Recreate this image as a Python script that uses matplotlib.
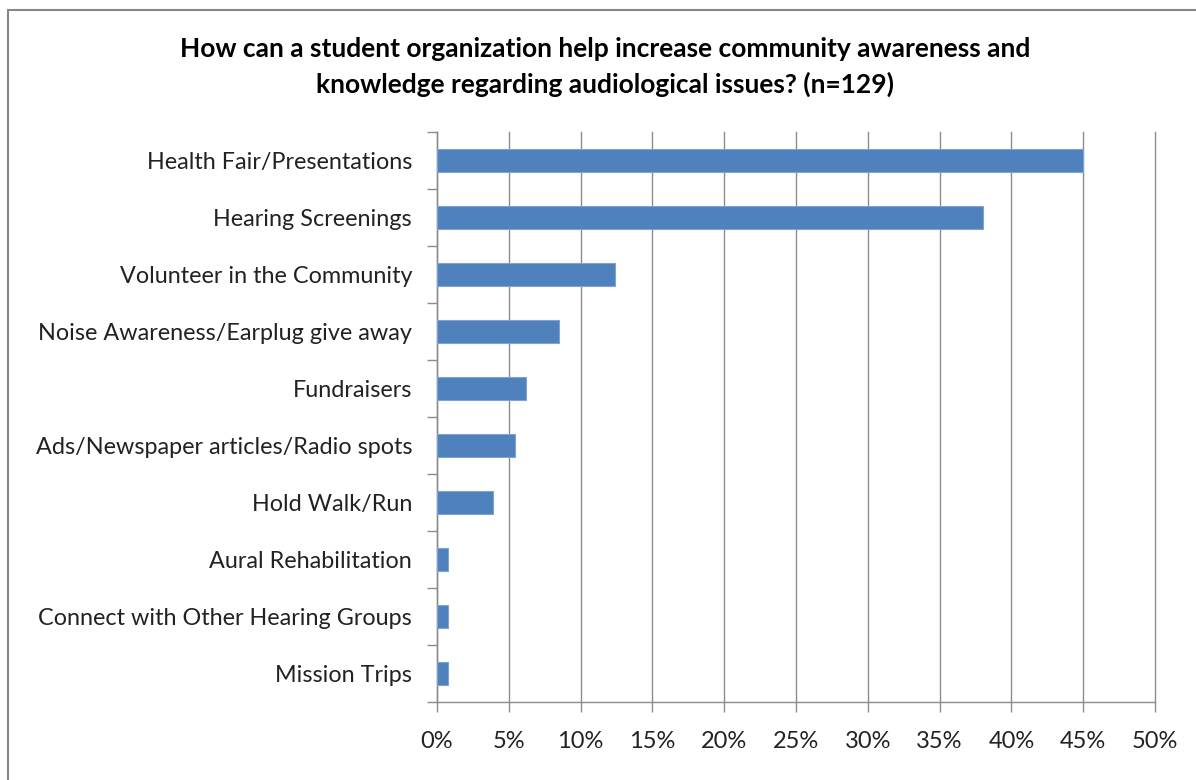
import matplotlib
matplotlib.use("Agg")
import matplotlib.pyplot as plt
from matplotlib.patches import Rectangle
from matplotlib.ticker import MultipleLocator, FuncFormatter

categories = [
    "Health Fair/Presentations",
    "Hearing Screenings",
    "Volunteer in the Community",
    "Noise Awareness/Earplug give away",
    "Fundraisers",
    "Ads/Newspaper articles/Radio spots",
    "Hold Walk/Run",
    "Aural Rehabilitation",
    "Connect with Other Hearing Groups",
    "Mission Trips",
]
percent = [45.0, 38.0, 12.4, 8.5, 6.2, 5.4, 3.9, 0.8, 0.8, 0.8]

title = ("How can a student organization help increase community awareness and\n"
         "knowledge regarding audiological issues? (n=129)")

plt.rcParams['font.family'] = ['Lato', 'DejaVu Sans']

fig = plt.figure(figsize=(11.96, 7.8), dpi=100)
# outer chart frame, right/bottom edges fall outside the picture
fig.patches.append(Rectangle((8 / 1196, -0.1), 1.2, 1 - 10 / 780 + 0.1,
                             transform=fig.transFigure, fill=False,
                             edgecolor='#878787', linewidth=1.5))

ax = fig.add_axes([437 / 1196, 78 / 780, 718 / 1196, 570 / 780])

n = len(categories)
ypos = list(range(n))
ax.barh(ypos, percent, height=0.42, color='#4F81BD', edgecolor='#7FA3D3',
        linewidth=0.8, zorder=3)

ax.set_xlim(0, 50)
ax.set_ylim(n - 0.5, -0.5)
ax.xaxis.set_major_locator(MultipleLocator(5))
ax.xaxis.set_major_formatter(FuncFormatter(lambda v, p: f"{v:.0f}%"))
ax.grid(axis='x', color='#8C8C8C', linewidth=1.0, zorder=0)
for gl in ax.get_xgridlines():
    gl.set_clip_on(False)

ax.set_yticks(ypos)
ax.set_yticklabels(categories, fontsize=16.8, color='#222222')
ax.set_yticks([i - 0.5 for i in range(n + 1)], minor=True)
ax.tick_params(axis='y', which='major', length=0, pad=18)
ax.tick_params(axis='y', which='minor', length=7, color='#8C8C8C', width=1.0)
ax.tick_params(axis='x', length=7, color='#8C8C8C', width=1.0,
               labelsize=17, labelcolor='#222222', pad=14)

for side in ['top', 'right']:
    ax.spines[side].set_visible(False)
for side in ['left', 'bottom']:
    ax.spines[side].set_color('#8C8C8C')
    ax.spines[side].set_linewidth(1.0)

fig.text(0.506, 1 - 67 / 780, title, ha='center', va='center',
         fontsize=19, fontweight='bold', linespacing=1.5)

fig.savefig("out.png", dpi=100)
